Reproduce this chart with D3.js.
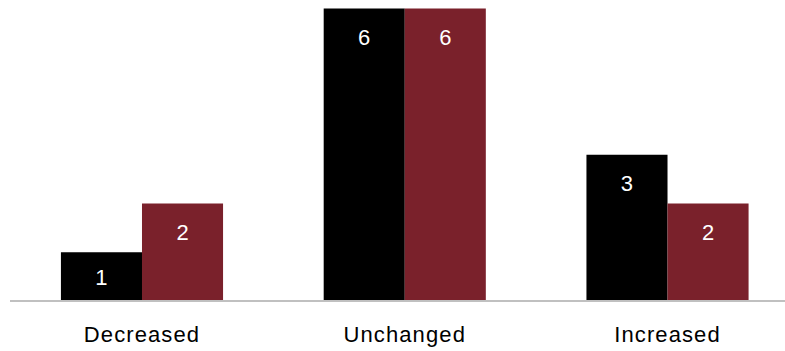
<!DOCTYPE html>
<html>
<head>
<meta charset="utf-8">
<script src="https://cdn.jsdelivr.net/npm/d3@7/dist/d3.min.js"></script>
<style>
  html, body { margin: 0; padding: 0; background: #fff; }
  svg { display: block; }
  text { font-family: "Liberation Sans", Arial, sans-serif; }
</style>
</head>
<body>
<svg id="chart" width="785" height="351"></svg>
<script>
// Categories and the two series counts
const categories = ["Decreased", "Unchanged", "Increased"];
const seriesNames = ["Series A", "Series B"];
const seriesA = [1, 6, 3];
const seriesB = [2, 6, 2];
const colors = ["#000000", "#7a212b"];

const width = 785, height = 351;
const baseline = 301, plotTop = 8.5;

const svg = d3.select("#chart");

const x = d3.scaleBand()
  .domain(categories)
  .range([11, 798.5])
  .paddingInner(0.383)
  .paddingOuter(0.19);

const xSub = d3.scaleBand()
  .domain(seriesNames)
  .range([0, x.bandwidth()])
  .padding(0);

const y = d3.scaleLinear()
  .domain([0, 6])
  .range([baseline, plotTop]);

const rows = categories.map((c, i) => ({
  category: c,
  values: [seriesA[i], seriesB[i]].map((v, j) => ({ series: seriesNames[j], value: v, color: colors[j] }))
}));

const groups = svg.append("g")
  .selectAll("g")
  .data(rows)
  .join("g")
  .attr("transform", d => `translate(${x(d.category)},0)`);

groups.selectAll("rect")
  .data(d => d.values)
  .join("rect")
  .attr("x", d => xSub(d.series))
  .attr("y", d => y(d.value))
  .attr("width", xSub.bandwidth())
  .attr("height", d => y(0) - y(d.value))
  .attr("fill", d => d.color);

// Value labels sit just inside the top of each bar
groups.selectAll("text.value")
  .data(d => d.values)
  .join("text")
  .attr("class", "value")
  .attr("x", d => xSub(d.series) + xSub.bandwidth() / 2)
  .attr("y", d => Math.min(y(d.value) + 36, baseline - 16))
  .attr("text-anchor", "middle")
  .attr("fill", "#ffffff")
  .attr("font-size", 22)
  .text(d => d.value);

// Category axis: baseline rule and labels
const axis = d3.axisBottom(x).tickSize(0).tickPadding(0);
const axisG = svg.append("g")
  .attr("transform", `translate(0,${baseline})`)
  .call(axis);
axisG.select(".domain").remove();
axisG.append("line")
  .attr("x1", 10).attr("x2", width)
  .attr("y1", 0).attr("y2", 0)
  .attr("stroke", "#c0c0c0")
  .attr("stroke-width", 2);
axisG.selectAll(".tick text")
  .attr("y", 41)
  .attr("dy", 0)
  .attr("fill", "#000")
  .attr("font-size", 22)
  .attr("letter-spacing", 1.1)
  .style("font-family", "'Liberation Sans', Arial, sans-serif");
</script>
</body>
</html>
